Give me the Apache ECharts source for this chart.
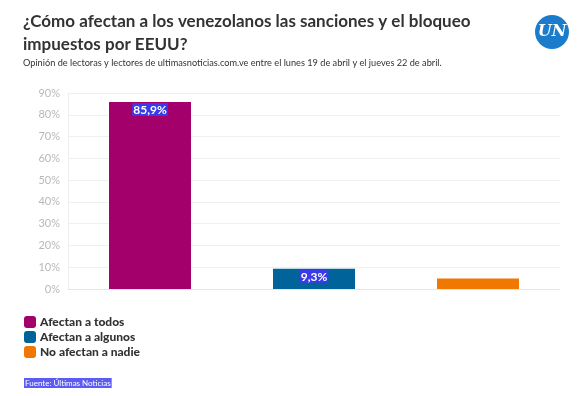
<!DOCTYPE html>
<html>
<head>
<meta charset="utf-8">
<script src="https://cdn.jsdelivr.net/npm/echarts@6/dist/echarts.min.js"></script>
<style>
  html, body { margin: 0; padding: 0; background: #fff; }
  #chart { width: 582px; height: 396px; }
</style>
</head>
<body>
<div id="chart"></div>
<script>
// datos
const categorias = ['Afectan a todos', 'Afectan a algunos', 'No afectan a nadie'];
const valores = [85.9, 9.3, 4.8];
const colores = ['#a3006b', '#00639a', '#f07800'];
const mostrarEtiqueta = [true, true, false];
const ticksY = [0, 90, 10]; // min, max, intervalo

const FUENTE = 'Lato, "Noto Sans", sans-serif';

const chart = echarts.init(document.getElementById('chart'));

// una serie por categoría para que la leyenda las muestre
const series = categorias.map((nombre, i) => ({
  name: nombre,
  type: 'bar',
  barWidth: '50%',
  barGap: '-100%',
  itemStyle: { color: colores[i] },
  data: valores.map((v, j) => (j === i ? v : '-')),
  label: {
    show: mostrarEtiqueta[i],
    position: 'insideTop',
    distance: 1,
    formatter: (p) => p.value.toFixed(1).replace('.', ',') + '%',
    color: '#fff',
    fontFamily: FUENTE,
    fontWeight: 'bold',
    fontSize: 12,
    backgroundColor: '#3a3ae8',
    padding: [1, 1, 0, 1]
  }
}));

const option = {
  animation: false,
  textStyle: { fontFamily: FUENTE },
  title: {
    text: '¿Cómo afectan a los venezolanos las sanciones y el bloqueo\nimpuestos por EEUU?',
    subtext: 'Opinión de lectoras y lectores de ultimasnoticias.com.ve entre el lunes 19 de abril y el jueves 22 de abril.',
    left: 18,
    top: 5,
    itemGap: 3,
    textStyle: {
      fontFamily: FUENTE,
      fontSize: 17,
      fontWeight: 'bold',
      color: '#333',
      lineHeight: 23
    },
    subtextStyle: {
      fontFamily: FUENTE,
      fontSize: 9.2,
      color: '#333'
    }
  },
  legend: {
    orient: 'vertical',
    left: 24,
    top: 316,
    padding: 0,
    icon: 'roundRect',
    itemWidth: 12,
    itemHeight: 12,
    itemGap: 3,
    textStyle: { fontFamily: FUENTE, fontSize: 12, fontWeight: 900, color: '#333', padding: [0, 0, 0, -1] },
    data: categorias
  },
  grid: { left: 68, right: 22, top: 93, bottom: 107 },
  xAxis: {
    type: 'category',
    data: categorias,
    axisLabel: { show: false },
    axisTick: { show: false },
    axisLine: { lineStyle: { color: '#e6e6e6' } }
  },
  yAxis: {
    type: 'value',
    min: ticksY[0],
    max: ticksY[1],
    interval: ticksY[2],
    axisLine: { show: true, lineStyle: { color: '#eeeeee', width: 1 } },
    axisTick: { show: false },
    axisLabel: { formatter: '{value}%', color: '#b8b8b8', fontSize: 11, margin: 8 },
    splitLine: { lineStyle: { color: '#efefef' } }
  },
  series: series,
  graphic: [
    {
      type: 'circle',
      shape: { cx: 552, cy: 32, r: 17 },
      style: { fill: '#1b7ccc' }
    },
    {
      type: 'text',
      x: 552,
      y: 32,
      style: {
        text: 'UN',
        fill: '#fff',
        font: 'italic bold 16px "DejaVu Serif", serif',
        align: 'center',
        verticalAlign: 'middle'
      }
    },
    {
      type: 'text',
      left: 24,
      top: 378,
      style: {
        text: 'Fuente: Últimas Noticias',
        fill: '#fff',
        font: '8px ' + FUENTE,
        backgroundColor: '#5c5cf2',
        padding: [1, 1, 1, 1]
      }
    }
  ]
};

chart.setOption(option);
</script>
</body>
</html>
